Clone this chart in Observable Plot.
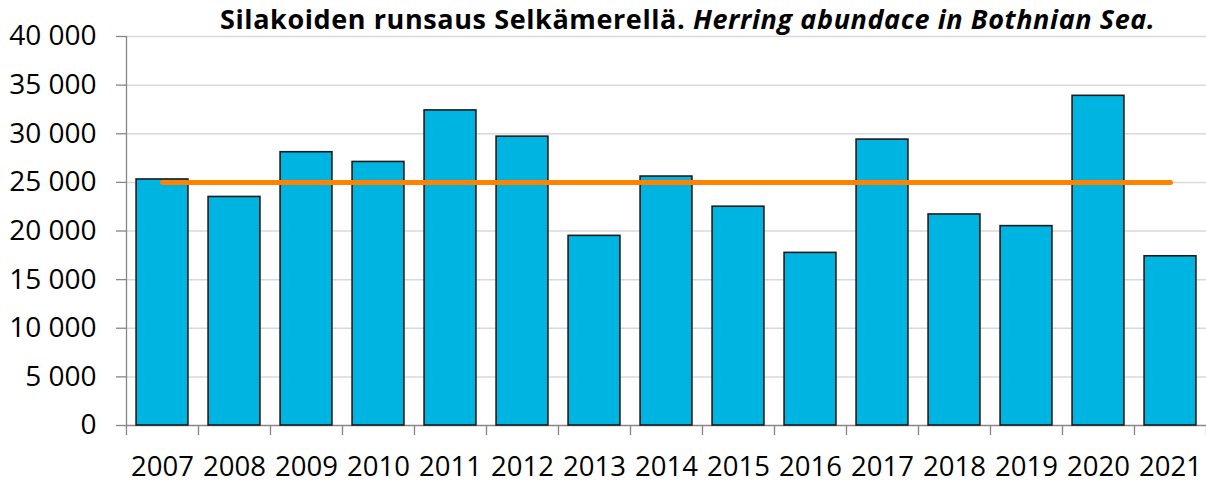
<!DOCTYPE html>
<html>
<head>
<meta charset="utf-8">
<script src="https://cdn.jsdelivr.net/npm/d3@7"></script>
<script src="https://cdn.jsdelivr.net/npm/@observablehq/plot@0.6"></script>
<style>
  html, body { margin: 0; padding: 0; background: #fff; }
  #wrap { position: relative; width: 1206px; height: 484px; font-family: "Open Sans", sans-serif; }
  #title { position: absolute; left: 220px; top: 0px; font-size: 27px; font-weight: 700; color: #000; white-space: nowrap; line-height: normal; letter-spacing: 0.6px; }
  #title i { font-style: italic; }
  svg { display: block; }
</style>
</head>
<body>
<div id="wrap">
  <div id="chart"></div>
  <div id="title">Silakoiden runsaus Selkämerellä. <i>Herring abundace in Bothnian Sea.</i></div>
</div>
<script>
const years = [2007, 2008, 2009, 2010, 2011, 2012, 2013, 2014, 2015, 2016, 2017, 2018, 2019, 2020, 2021];
const abundance = [25300, 23500, 28100, 27100, 32400, 29700, 19500, 25600, 22500, 17750, 29400, 21700, 20500, 33900, 17400];
const average = [25000, 25000, 25000, 25000, 25000, 25000, 25000, 25000, 25000, 25000, 25000, 25000, 25000, 25000, 25000];
const yTicks = [0, 5000, 10000, 15000, 20000, 25000, 30000, 35000, 40000];

const data = years.map((year, i) => ({year, value: abundance[i], avg: average[i]}));
const boundaries = [years[0] - 0.5, ...years.map(y => y + 0.5)];
const fmt = v => d3.format(",")(v).replace(/,/g, "\u00a0");

const chart = Plot.plot({
  width: 1206,
  height: 484,
  marginLeft: 126,
  marginRight: 0,
  marginTop: 36,
  marginBottom: 59,
  style: {fontFamily: "'Open Sans', sans-serif", fontSize: "28px", color: "#000", background: "#fff"},
  x: {type: "linear", domain: [years[0] - 0.5, years[years.length - 1] + 0.5]},
  y: {domain: [0, 40000]},
  marks: [
    Plot.gridY(yTicks.slice(1), {stroke: "#d9d9d9", strokeOpacity: 1, strokeWidth: 1.5}),
    Plot.ruleX([boundaries[0]], {y1: 0, y2: 40000, stroke: "#868686", strokeWidth: 1.3}),
    Plot.ruleY([0], {stroke: "#868686", strokeWidth: 1.3}),
    Plot.axisY(yTicks, {tickSize: 10, tickPadding: 20, tickFormat: fmt, stroke: "#868686", strokeWidth: 1.3, fill: "#000", fontSize: 28, label: null}),
    Plot.axisX(boundaries, {tickSize: 10, tickFormat: () => "", stroke: "#868686", strokeWidth: 1.3, label: null}),
    Plot.axisX(years, {tickSize: 0, tickPadding: 31, tickFormat: d => String(d), fill: "#000", fontSize: 27.5, label: null}),
    Plot.rectY(data, {x1: d => d.year - 0.36, x2: d => d.year + 0.36, y: "value", fill: "#00B4E1", stroke: "#1c1c1c", strokeWidth: 1.6}),
    Plot.lineY(data, {x: "year", y: "avg", stroke: "#FF8200", strokeWidth: 5, strokeLinecap: "round"})
  ]
});
document.getElementById("chart").appendChild(chart);
</script>
</body>
</html>
